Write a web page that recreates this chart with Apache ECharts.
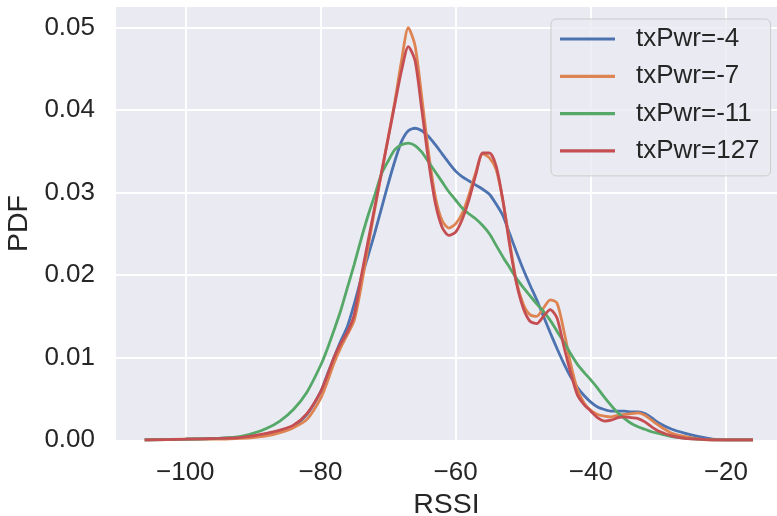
<!DOCTYPE html>
<html>
<head>
<meta charset="utf-8">
<script src="https://cdn.jsdelivr.net/npm/echarts@6/dist/echarts.min.js"></script>
<style>
  html, body { margin: 0; padding: 0; background: #ffffff; }
  #chart { width: 777px; height: 516px; }
</style>
</head>
<body>
<div id="chart"></div>
<script>
// RSSI sample positions (dBm)
const rssi = [-106, -100, -95, -92, -90, -88, -86, -84, -82,
  -80, -79, -78, -77, -76, -75, -74, -73, -72, -71, -70, -69, -68, -67, -66, -65,
  -64, -63, -62, -61, -60, -59, -58, -57, -56, -55, -54, -53, -52, -51, -50,
  -49, -48, -47, -46, -45, -44, -43, -42, -41, -40, -39, -38, -37, -36, -35,
  -34, -33, -32, -31, -30, -28, -26, -24, -22, -20, -18, -16];

const seriesNames = ['txPwr=-4', 'txPwr=-7', 'txPwr=-11', 'txPwr=127'];

const pdfTx4 = [0, 0.0001, 0.0002, 0.0003, 0.0004, 0.0007, 0.0011, 0.0017, 0.0031,
  0.0058, 0.0079, 0.0100, 0.0120, 0.0138, 0.0165, 0.0195, 0.0222, 0.0250, 0.0280, 0.0310, 0.0338, 0.0362, 0.0375, 0.0378, 0.0375,
  0.0368, 0.0358, 0.0347, 0.0336, 0.0326, 0.0319, 0.0314, 0.0309, 0.0304, 0.0298, 0.0286, 0.0272, 0.0250, 0.0228, 0.0207,
  0.0188, 0.0170, 0.0150, 0.0130, 0.0111, 0.0093, 0.0077, 0.0064, 0.0054, 0.0046, 0.0040, 0.0037, 0.0035, 0.0035, 0.0035,
  0.0034, 0.0034, 0.0032, 0.0027, 0.0021, 0.0013, 0.0008, 0.0004, 0.0001, 0, 0, 0];

const pdfTx7 = [0, 0.0001, 0.0001, 0.0002, 0.0003, 0.0005, 0.0009, 0.0015, 0.0025,
  0.0050, 0.0070, 0.0093, 0.0112, 0.0128, 0.0145, 0.0185, 0.0232, 0.0278, 0.0322, 0.0366, 0.0410, 0.0460, 0.0500, 0.0478, 0.0415,
  0.0348, 0.0295, 0.0266, 0.0257, 0.0262, 0.0275, 0.0298, 0.0325, 0.0347, 0.0342, 0.0328, 0.0290, 0.0240, 0.0192, 0.0165,
  0.0152, 0.0150, 0.0160, 0.0170, 0.0166, 0.0133, 0.0093, 0.0062, 0.0045, 0.0036, 0.0031, 0.0029, 0.0028, 0.0030, 0.0031,
  0.0032, 0.0033, 0.0030, 0.0024, 0.0018, 0.0008, 0.0004, 0.0001, 0, 0, 0, 0];

const pdfTx11 = [0, 0.0001, 0.0002, 0.0004, 0.0008, 0.0014, 0.0023, 0.0037, 0.0058,
  0.0090, 0.0110, 0.0133, 0.0157, 0.0185, 0.0213, 0.0243, 0.0271, 0.0296, 0.0322, 0.0338, 0.0352, 0.0358, 0.0360, 0.0357, 0.0349,
  0.0337, 0.0325, 0.0313, 0.0301, 0.0291, 0.0281, 0.0274, 0.0268, 0.0260, 0.0250, 0.0236, 0.0222, 0.0209, 0.0196, 0.0185,
  0.0175, 0.0165, 0.0156, 0.0145, 0.0132, 0.0119, 0.0105, 0.0092, 0.0082, 0.0073, 0.0063, 0.0052, 0.0042, 0.0033, 0.0026,
  0.0020, 0.0016, 0.0013, 0.0010, 0.0008, 0.0004, 0.0002, 0.0001, 0, 0, 0, 0];

const pdfTx127 = [0, 0.0001, 0.0002, 0.0003, 0.0005, 0.0008, 0.0012, 0.0018, 0.0032,
  0.0058, 0.0078, 0.0100, 0.0117, 0.0131, 0.0152, 0.0197, 0.0239, 0.0281, 0.0323, 0.0365, 0.0407, 0.0448, 0.0477, 0.0460, 0.0400,
  0.0338, 0.0287, 0.0258, 0.0248, 0.0252, 0.0268, 0.0292, 0.0322, 0.0348, 0.0348, 0.0332, 0.0290, 0.0236, 0.0190, 0.0160,
  0.0144, 0.0141, 0.0150, 0.0158, 0.0148, 0.0114, 0.0082, 0.0055, 0.0043, 0.0035, 0.0027, 0.0023, 0.0024, 0.0027, 0.0028,
  0.0027, 0.0026, 0.0022, 0.0016, 0.0011, 0.0005, 0.0002, 0.0001, 0, 0, 0, 0];

const allPdf = [pdfTx4, pdfTx7, pdfTx11, pdfTx127];
const colors = ['#4c72b0', '#dd8452', '#55a868', '#c44e52'];
const textColor = '#262626';
const font = '"Liberation Sans", Arial, sans-serif';

const chart = echarts.init(document.getElementById('chart'));

const option = {
  animation: false,
  backgroundColor: '#ffffff',
  textStyle: { fontFamily: font },
  grid: {
    left: 116, top: 7, right: 0, bottom: 76,
    outerBoundsMode: 'none',
    containLabel: false,
    show: true, backgroundColor: '#eaeaf2', borderWidth: 0
  },
  legend: {
    orient: 'vertical',
    left: 551, top: 19,
    padding: [5, 11, 10, 9],
    itemGap: 7.3,
    itemWidth: 55, itemHeight: 3.2,
    icon: 'rect',
    backgroundColor: 'rgba(234,234,242,0.8)',
    borderColor: '#cccccc', borderWidth: 1, borderRadius: 5,
    textStyle: {
      color: textColor, fontFamily: font, fontSize: 26,
      lineHeight: 30, padding: [0, 0, 0, 16]
    },
    data: seriesNames
  },
  xAxis: {
    type: 'value',
    min: -110.25, max: -12.45,
    splitNumber: 5,
    name: 'RSSI', nameLocation: 'middle', nameGap: 50,
    nameTextStyle: { color: textColor, fontSize: 28.5, fontFamily: font },
    axisLine: { show: false },
    axisTick: { show: false },
    axisLabel: {
      color: textColor, fontSize: 26, fontFamily: font, margin: 20,
      formatter: v => (v % 20 === 0 ? String(v).replace('-', '\u2212') : '')
    },
    splitLine: { show: true, showMinLine: false, showMaxLine: false, lineStyle: { color: '#ffffff', width: 1.8 } }
  },
  yAxis: {
    type: 'value',
    min: 0, max: 0.0525, interval: 0.01,
    name: 'PDF', nameLocation: 'middle', nameGap: 80,
    nameTextStyle: { color: textColor, fontSize: 28.5, fontFamily: font },
    axisLine: { show: false },
    axisTick: { show: false },
    axisLabel: {
      color: textColor, fontSize: 26, fontFamily: font, margin: 21,
      formatter: v => v.toFixed(2),
      showMaxLabel: false
    },
    splitLine: { show: true, showMinLine: false, showMaxLine: false, lineStyle: { color: '#ffffff', width: 1.8 } }
  },
  series: seriesNames.map((name, i) => ({
    name: name,
    type: 'line',
    data: rssi.map((x, j) => [x, allPdf[i][j]]),
    smooth: 0.25,
    showSymbol: false,
    symbol: 'none',
    color: colors[i],
    lineStyle: { color: colors[i], width: 2.8 },
    z: 2 + i
  }))
};

chart.setOption(option);
</script>
</body>
</html>
